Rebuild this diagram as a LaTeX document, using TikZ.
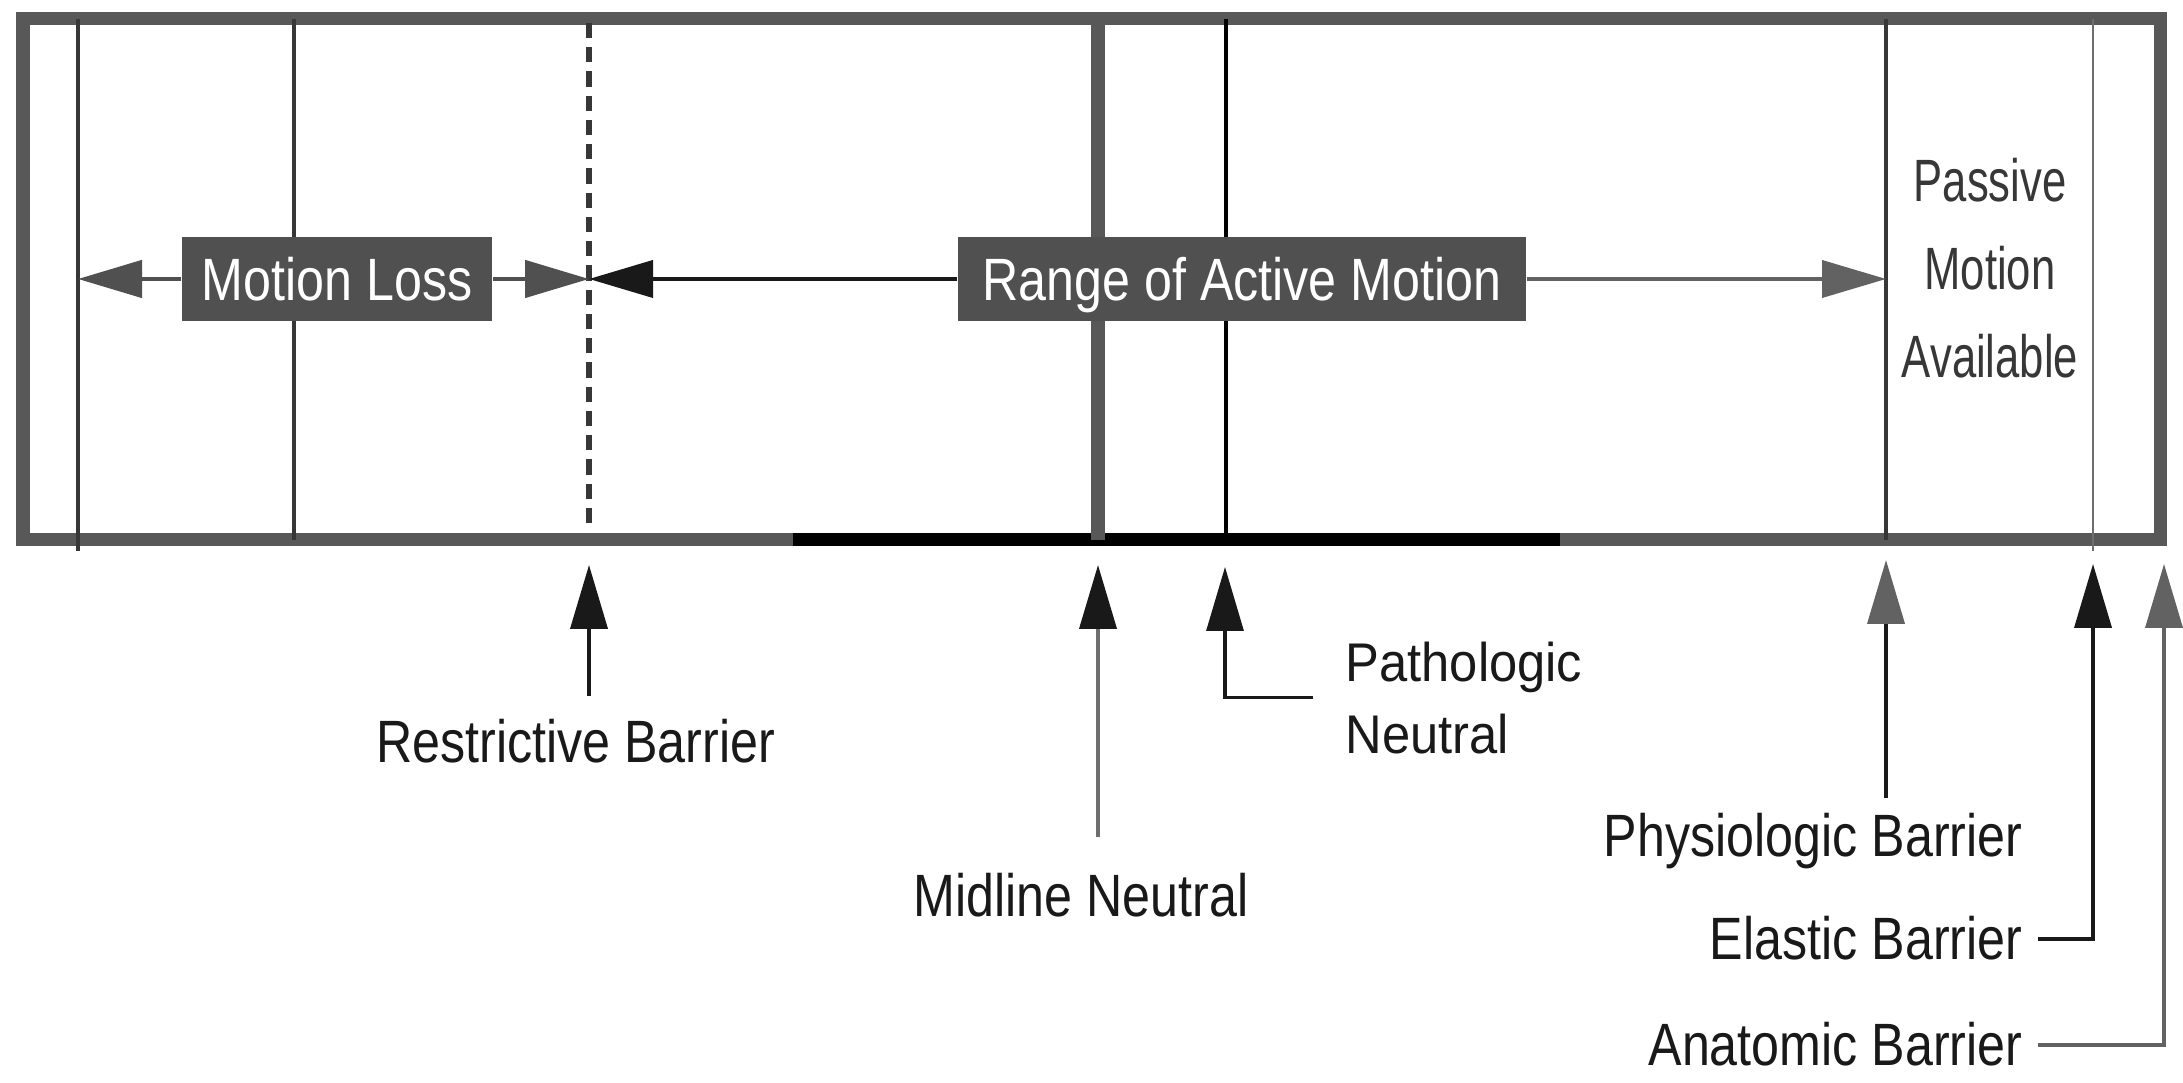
\documentclass[tikz,border=0pt]{standalone}
\usepackage{fontspec}
\setmainfont{Liberation Sans}[FakeStretch=0.84]
\newfontfamily\narrowsans{Liberation Sans}[FakeStretch=0.73]
\newfontfamily\widesans{Liberation Sans}[FakeStretch=0.93]
\usetikzlibrary{arrows.meta}
\definecolor{framegray}{RGB}{88,88,88}
\definecolor{boxgray}{RGB}{80,80,80}
\definecolor{headgray}{RGB}{98,98,98}
\definecolor{midgray}{RGB}{110,110,110}
\definecolor{darkline}{RGB}{55,55,55}
\definecolor{inkblack}{RGB}{25,25,25}

\begin{document}
\begin{tikzpicture}[
    font=\fontsize{17}{20.5}\selectfont,
    rim/.style={draw=framegray, line width=3.7pt},
    divider/.style={draw=#1, line width=0.95pt},
    band/.style={fill=boxgray, text=white, minimum height=0.84cm, inner xsep=0.2cm, text depth=0pt},
    tag/.style={text=inkblack, inner xsep=0.15cm, inner ysep=0.22cm},
    arr/.style={draw=#1, line width=1.1pt, -{Triangle[length=0.64cm, width=0.37cm, color=#1]}}
]
    \path[use as bounding box, fill=white] (0, 0) rectangle (21.83, 10.83);

    % the band and its dividers
    \draw[rim] (0.23, 10.64) rectangle (21.60, 5.43);
    \draw[line width=3.7pt, draw=black] (7.93, 5.43) -- (15.60, 5.43);
    \draw[divider=darkline] (0.78, 10.64) -- (0.78, 5.32);
    \draw[divider=darkline] (2.94, 10.64) -- (2.94, 5.43);
    \draw[divider=darkline, line width=1.5pt, dash pattern=on 4.3pt off 2.6pt] (5.89, 10.60) -- (5.89, 5.51);
    \draw[divider=framegray, line width=4pt] (10.98, 10.64) -- (10.98, 5.43);
    \draw[divider=black] (12.26, 10.64) -- (12.26, 5.43);
    \draw[divider=darkline] (18.86, 10.64) -- (18.86, 5.43);
    \draw[divider=midgray, line width=0.75pt] (20.93, 10.64) -- (20.93, 5.32);

    \coordinate (lossend) at (0.78, 8.04);
    \coordinate (restrtop) at (5.89, 8.04);
    \coordinate (phystop) at (18.86, 8.04);

    \node[band, minimum width=3.04cm] (loss) at (3.37, 8.04) {Motion Loss};
    \node[band, minimum width=5.68cm] (range) at (12.42, 8.04) {Range of Active Motion};
    \node[text=darkline, align=center, font=\narrowsans\fontsize{17}{25}\selectfont] (passive) at (19.90, 8.15) {Passive\\Motion\\Available};

    \draw[arr=boxgray, line width=1.3pt] (loss.west) -- (lossend);
    \draw[arr=boxgray, line width=1.3pt] (loss.east) -- (restrtop);
    \draw[arr=inkblack] (range.west) -- (restrtop);
    \draw[arr=headgray] (range.east) -- (phystop);

    % barriers below the band
    \coordinate (restr) at (5.89, 5.18);
    \coordinate (midl) at (10.98, 5.18);
    \coordinate (pathol) at (12.25, 5.16);
    \coordinate (physl) at (18.86, 5.23);
    \coordinate (elast) at (20.93, 5.19);
    \coordinate (anat) at (21.64, 5.19);

    \node[tag, anchor=base, inner ysep=0.23cm] (restrictive) at (5.755, 3.20) {Restrictive Barrier};
    \node[tag, anchor=base, inner ysep=0.36cm] (midline) at (10.81, 1.66) {Midline Neutral};
    \node[tag, anchor=north west, inner xsep=0.32cm, inner ysep=0pt, align=left, font=\widesans\fontsize{15.5}{20.5}\selectfont] (patho) at (13.13, 4.42) {Pathologic\\Neutral};
    \node[tag, anchor=base east, inner ysep=0.15cm] (physio) at (20.38, 2.26) {Physiologic Barrier};
    \node[tag, anchor=base east] (elastic) at (20.38, 1.23) {Elastic Barrier};
    \node[tag, anchor=base east] (anatomic) at (20.38, 0.17) {Anatomic Barrier};

    \draw[arr=inkblack] (restrictive.north -| restr) -- (restr);
    \draw[arr=inkblack, draw=midgray] (midline.north -| midl) -- (midl);
    \draw[arr=inkblack, line width=0.9pt] (patho.west) -| (pathol);
    \draw[arr=headgray, draw=inkblack] (physio.north -| physl) -- (physl);
    \draw[arr=inkblack] (elastic.east) -| (elast);
    \draw[arr=headgray] (anatomic.east) -| (anat);
\end{tikzpicture}
\end{document}
